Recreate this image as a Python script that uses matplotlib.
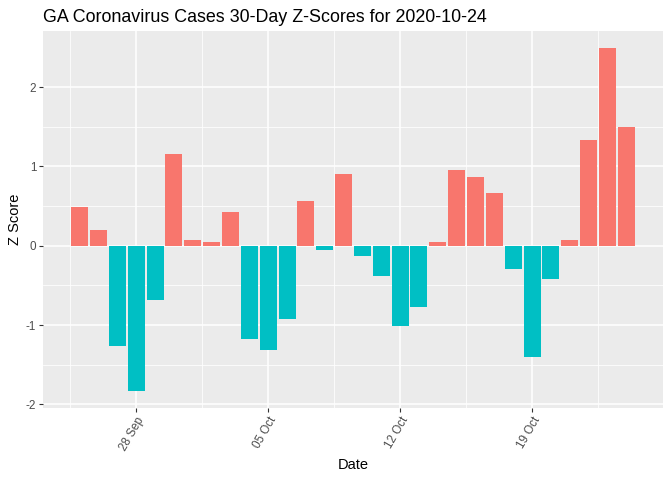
import matplotlib
matplotlib.use("Agg")
import matplotlib.pyplot as plt
import matplotlib.dates as mdates
import pandas as pd
import numpy as np

dates = pd.date_range("2020-09-25", "2020-10-24", freq="D")
zscores = [0.49, 0.195, -1.26, -1.83, -0.69, 1.16, 0.068, 0.042, 0.42, -1.17,
           -1.32, -0.93, 0.56, -0.05, 0.90, -0.127, -0.38, -1.01, -0.77, 0.042,
           0.95, 0.86, 0.66, -0.29, -1.405, -0.42, 0.076, 1.33, 2.49, 1.49]
title = "GA Coronavirus Cases 30-Day Z-Scores for 2020-10-24"
xticks = ["2020-09-28", "2020-10-05", "2020-10-12", "2020-10-19"]
yticks = [-2, -1, 0, 1, 2]

pos_color = "#F8766D"
neg_color = "#00BFC4"

plt.rcParams['font.family'] = ['Liberation Sans', 'DejaVu Sans']

fig = plt.figure(figsize=(6.72, 4.8), dpi=100)
W, H = 672, 480
left, right, top, bottom = 43, 663, 31, 408
ax = fig.add_axes([left / W, 1 - bottom / H, (right - left) / W, (bottom - top) / H])
ax.set_facecolor("#EBEBEB")

x = mdates.date2num(dates)
z = np.array(zscores)
colors = [pos_color if v >= 0 else neg_color for v in z]
ax.bar(x, z, width=0.9, color=colors, zorder=3)

# limits like ggplot expansion
xmin, xmax = x.min() - 0.45, x.max() + 0.45
dx = (xmax - xmin) * 0.05
ax.set_xlim(xmin - dx, xmax + dx)
ymin, ymax = min(z.min(), 0), max(z.max(), 0)
dy = (ymax - ymin) * 0.05
ax.set_ylim(ymin - dy, ymax + dy)

xt = mdates.date2num(pd.to_datetime(xticks))
ax.set_xticks(xt)
ax.set_xticklabels([d.strftime("%d %b") for d in pd.to_datetime(xticks)],
                   rotation=60, ha="right", rotation_mode="anchor",
                   fontsize=8.4, color="#4D4D4D")
ax.set_xticks(np.concatenate([[xt[0] - 3.5], xt + 3.5]), minor=True)
ax.set_yticks(yticks)
ax.set_yticklabels([str(v) for v in yticks], fontsize=8.4, color="#4D4D4D")
ax.set_yticks(np.array(yticks[:-1]) + 0.5, minor=True)

ax.grid(which="major", color="white", linewidth=1.1, zorder=0)
ax.grid(which="minor", color="white", linewidth=0.55, zorder=0)
ax.set_axisbelow(True)
ax.tick_params(which="major", length=2.8, width=0.8, color="#333333", pad=2)
ax.tick_params(which="minor", length=0)
for s in ax.spines.values():
    s.set_visible(False)

ax.set_xlabel("Date", fontsize=10.5, color="black", labelpad=4)
ax.set_ylabel("Z Score", fontsize=10.5, color="black", labelpad=3)
fig.text(left / W, 1 - 17 / H, title, fontsize=12.9, color="black",
         ha="left", va="center")

fig.savefig("out.png", dpi=100)
